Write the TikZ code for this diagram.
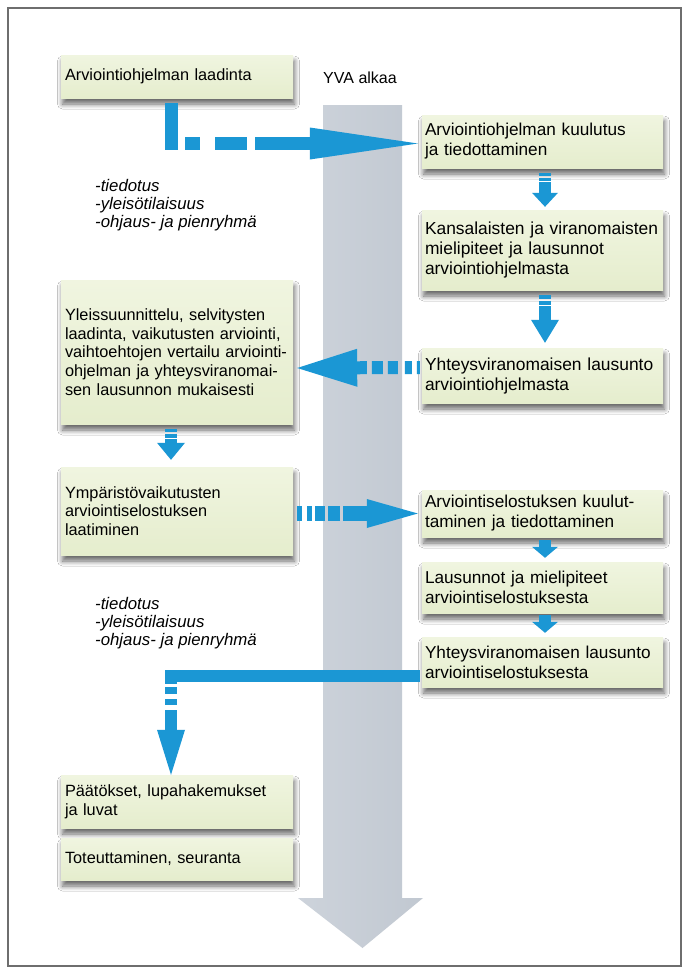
\documentclass[tikz,border=0pt]{standalone}
\usepackage{fontspec}
\setmainfont{Liberation Sans}
\usetikzlibrary{arrows.meta,shadows.blur}
\definecolor{boxgreen}{RGB}{229,237,205}
\definecolor{boxgreenT}{RGB}{240,245,224}
\definecolor{arrowblue}{RGB}{27,151,212}
\definecolor{bargray}{RGB}{193,200,209}
\definecolor{barlight}{RGB}{205,211,219}
\definecolor{framegray}{RGB}{110,110,110}
\newcommand\leftfont{\fontsize{16.3}{18.8}\selectfont}
\newcommand\rightfont{\fontsize{17.2}{20}\selectfont}
\newcommand\bigrightfont{\fontsize{17.4}{20}\selectfont}
\newcommand\listfont{\itshape\fontsize{16.8}{18}\selectfont}
\begin{document}
\begin{tikzpicture}[x=1pt,y=-1pt,
  box/.style={top color=boxgreenT, bottom color=boxgreen, inner ysep=0pt, align=left,
    blur shadow={shadow xshift=1.5pt, shadow yshift=-6pt, shadow blur radius=5pt, shadow blur steps=8, shadow opacity=60}},
  lbox/.style={box, inner xsep=4pt, text width=224pt, font=\leftfont},
  rbox/.style={box, inner xsep=3pt, text width=235pt, font=\rightfont},
  blist/.style={anchor=west, inner sep=0pt, align=left, font=\listfont},
  conn/.style={draw=arrowblue, line join=miter},
]
\useasboundingbox (0,0) rectangle (687,972);
\fill[white] (0,0) rectangle (687,972);
\draw[framegray, line width=1.4pt] (8,8) rectangle (681,966);

% time bar
\shade[left color=barlight, right color=bargray]
  (323,105) -- (402,105) -- (402,898) -- (423,898) -- (362.5,948) -- (298,898) -- (323,898) -- cycle;
\node[font=\fontsize{16}{18}\selectfont, inner sep=0pt] (Y) at (360,78) {YVA alkaa};

% boxes
\node[lbox, minimum height=43pt] (A) at (177,76.5) {Arviointiohjelman laadinta};
\node[rbox, minimum height=53pt] (B) at (542.5,141.5) {Arviointiohjelman kuulutus\\ja tiedottaminen};
\node[rbox, font=\bigrightfont, minimum height=80pt] (C) at (542.5,250) {Kansalaisten ja viranomaisten\\mielipiteet ja lausunnot\\arviointiohjelmasta};
\node[rbox, font=\bigrightfont, minimum height=55pt] (D) at (542.5,375.5) {Yhteysviranomaisen lausunto\\arviointiohjelmasta};
\node[lbox, minimum height=144pt] (E) at (177,352) {Yleissuunnittelu, selvitysten\\laadinta, vaikutusten arviointi,\\vaihtoehtojen vertailu arviointi-\\ohjelman ja yhteysviranomai-\\sen lausunnon mukaisesti};
\node[lbox, minimum height=88pt] (F) at (177,511) {Ympäristövaikutusten\\arviointiselostuksen\\laatiminen};
\node[rbox, minimum height=47pt] (G) at (542.5,513.5) {Arviointiselostuksen kuulut-\\taminen ja tiedottaminen};
\node[rbox, minimum height=51pt] (H) at (542.5,587.5) {Lausunnot ja mielipiteet\\arviointiselostuksesta};
\node[rbox, minimum height=50pt] (I) at (542.5,662) {Yhteysviranomaisen lausunto\\arviointiselostuksesta};
\node[lbox, minimum height=53pt] (J) at (177,801.5) {Päätökset, lupahakemukset\\ja luvat};
\node[lbox, minimum height=42pt] (K) at (177,859) {Toteuttaminen, seuranta};

% lists
\node[blist] (L1) at (95,205) {-tiedotus\\-yleisötilaisuus\\-ohjaus- ja pienryhmä};
\node[blist] (L2) at (95,623) {-tiedotus\\-yleisötilaisuus\\-ohjaus- ja pienryhmä};

% connectors
\draw[conn, line width=13pt, dash pattern=on 47.5pt off 7pt on 15pt off 15pt on 32pt off 8pt on 1000pt,
  -{Triangle[length=108pt,width=32pt,line width=0pt]}]
  ([xshift=-6pt,yshift=-5pt]A.south) |- ([xshift=-4pt,yshift=-2pt]B.west);
\draw[conn, line width=12pt, dash pattern=on 3pt off 1.5pt on 3pt off 1.5pt on 200pt,
  -{Triangle[length=14pt,width=26pt,line width=0pt]}]
  ([xshift=2.5pt,yshift=-5pt]B.south) -- ([xshift=2.5pt,yshift=3pt]C.north);
\draw[conn, line width=12pt, dash pattern=on 4pt off 1.5pt on 4pt off 1.5pt on 200pt,
  -{Triangle[length=23pt,width=28pt,line width=0pt]}]
  ([xshift=2.5pt,yshift=-5pt]C.south) -- ([xshift=2.5pt,yshift=5pt]D.north);
\draw[conn, line width=13pt, dash pattern=on 3pt off 5pt on 7pt off 7pt on 10pt off 5pt on 11pt off 5pt on 500pt,
  -{Triangle[length=60pt,width=38pt,line width=0pt]}]
  ([xshift=-2pt,yshift=8pt]D.west) -- ([xshift=4pt,yshift=-16pt]E.east);
\draw[conn, line width=12pt, dash pattern=on 3pt off 1.5pt on 4pt off 1.5pt on 200pt,
  -{Triangle[length=17pt,width=28pt,line width=0pt]}]
  ([xshift=-6pt,yshift=-5pt]E.south) -- ([xshift=-6pt,yshift=7pt]F.north);
\draw[conn, line width=15pt, dash pattern=on 5pt off 5pt on 5pt off 3pt on 10pt off 3pt on 12pt off 3pt on 500pt,
  -{Triangle[length=51pt,width=29pt,line width=0pt]}]
  ([xshift=4pt,yshift=-2.5pt]F.east) -- ([xshift=-4pt]G.west);
\draw[conn, line width=12pt,
  -{Triangle[length=11pt,width=26pt,line width=0pt]}]
  ([xshift=2.5pt,yshift=-3pt]G.south) -- ([xshift=2.5pt,yshift=4pt]H.north);
\draw[conn, line width=12pt,
  -{Triangle[length=11pt,width=26pt,line width=0pt]}]
  ([xshift=2.5pt,yshift=-2pt]H.south) -- ([xshift=2.5pt,yshift=4pt]I.north);
\draw[conn, line width=11.5pt, dash pattern=on 257pt off 3pt on 7pt off 5pt on 6pt off 5pt on 1000pt,
  -{Triangle[length=45pt,width=28pt,line width=0pt]}]
  ([xshift=-2pt,yshift=-14pt]I.west) -| ([xshift=-6pt]J.north);
\end{tikzpicture}
\end{document}
